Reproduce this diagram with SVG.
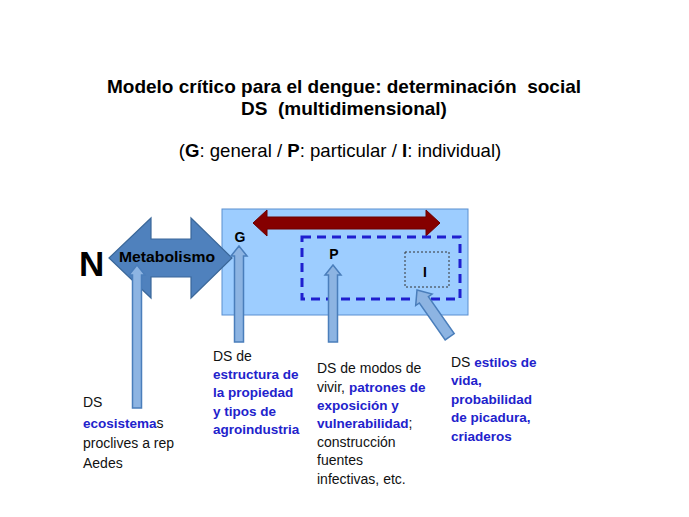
<svg xmlns="http://www.w3.org/2000/svg" width="689" height="517" viewBox="0 0 689 517">
<style>
.t{font-family:"Liberation Sans",Arial,sans-serif;fill:#000}
.b{font-weight:bold}
.lbl{font-family:"Liberation Sans",Arial,sans-serif;font-size:14px;fill:#111}
.blue{font-weight:bold;fill:#2222cc;font-size:13.5px}
.up{fill:#8db4e2;stroke:#4a7ebb;stroke-width:1.5}
</style>
<rect width="689" height="517" fill="#fff"/>
<g id="title">
<text class="t b" x="344" y="93" font-size="19" text-anchor="middle" xml:space="preserve">Modelo crítico para el dengue: determinación  social</text>
<text class="t b" x="344" y="115" font-size="19" text-anchor="middle" xml:space="preserve">DS  (multidimensional)</text>
<text class="t" x="340" y="157" font-size="18.6" text-anchor="middle">(<tspan class="b">G</tspan>: general / <tspan class="b">P</tspan>: particular / <tspan class="b">I</tspan>: individual)</text>
</g>
<g id="G-box">
<rect x="222" y="209" width="246" height="106" fill="#9dcdff" stroke="#5b8fd0" stroke-width="1"/>
<text class="t b" x="240" y="242" font-size="14" text-anchor="middle">G</text>
</g>
<g id="red-arrow">
<polygon points="253,223 267,210 267,217 426,217 426,210 440,223 426,236 426,229 267,229 267,236" fill="#850000" stroke="#6a0000" stroke-width="1"/>
</g>
<g id="P-box">
<rect x="302" y="237" width="158" height="62" fill="none" stroke="#1f1fcf" stroke-width="3" stroke-dasharray="9 6"/>
<text class="t b" x="334" y="259" font-size="14" text-anchor="middle">P</text>
</g>
<g id="I-box">
<rect x="405" y="252" width="44" height="35" fill="#9dcdff" stroke="#333" stroke-width="1" stroke-dasharray="2 2"/>
<text class="t b" x="425" y="277" font-size="14" text-anchor="middle">I</text>
</g>
<g id="N">
<text class="t b" x="79" y="276" font-size="35">N</text>
</g>
<g id="metabolismo">
<polygon points="109,258 151,218 151,239 191,239 191,218 232,258 191,298 191,277 151,277 151,298" fill="#4f81bd" stroke="#3a6799" stroke-width="1.2"/>
<text class="t b" x="119" y="262" font-size="14.5" textLength="96" lengthAdjust="spacingAndGlyphs" fill="#101828">Metabolismo</text>
</g>
<g id="connectors">
<polygon class="up" points="137,265 145,275 141.5,275 141.5,408 132.5,408 132.5,275 129,275"/>
<polygon class="up" points="239,246 247,256 243.5,256 243.5,342 234.5,342 234.5,256 231,256"/>
<polygon class="up" points="333,265 341,275 337.5,275 337.5,342 328.5,342 328.5,275 325,275"/>
<polygon class="up" transform="translate(417,290) rotate(-35)" points="0,0 10,12 5.5,12 5.5,57 -5.5,57 -5.5,12 -10,12"/>
</g>
<g id="label-ecosistemas">
<text class="lbl" x="83" y="407">DS</text>
<text class="lbl" x="83" y="428"><tspan class="blue">ecosistema</tspan>s</text>
<text class="lbl" x="83" y="448">proclives a rep</text>
<text class="lbl" x="83" y="468">Aedes</text>
</g>
<g id="label-G">
<text class="lbl" x="213" y="361">DS de</text>
<text class="lbl blue" x="213" y="379">estructura de</text>
<text class="lbl blue" x="213" y="397">la propiedad</text>
<text class="lbl blue" x="213" y="416">y tipos de</text>
<text class="lbl blue" x="213" y="434">agroindustria</text>
</g>
<g id="label-P">
<text class="lbl" x="317" y="373">DS de modos de</text>
<text class="lbl" x="317" y="392">vivir, <tspan class="blue">patrones de</tspan></text>
<text class="lbl blue" x="317" y="410">exposición y</text>
<text class="lbl" x="317" y="428"><tspan class="blue">vulnerabilidad</tspan>;</text>
<text class="lbl" x="317" y="447">construcción</text>
<text class="lbl" x="317" y="465">fuentes</text>
<text class="lbl" x="317" y="484">infectivas, etc.</text>
</g>
<g id="label-I">
<text class="lbl" x="451" y="367">DS <tspan class="blue">estilos de</tspan></text>
<text class="lbl blue" x="451" y="385">vida,</text>
<text class="lbl blue" x="451" y="404">probabilidad</text>
<text class="lbl blue" x="451" y="422">de picadura,</text>
<text class="lbl blue" x="451" y="441">criaderos</text>
</g>
</svg>
